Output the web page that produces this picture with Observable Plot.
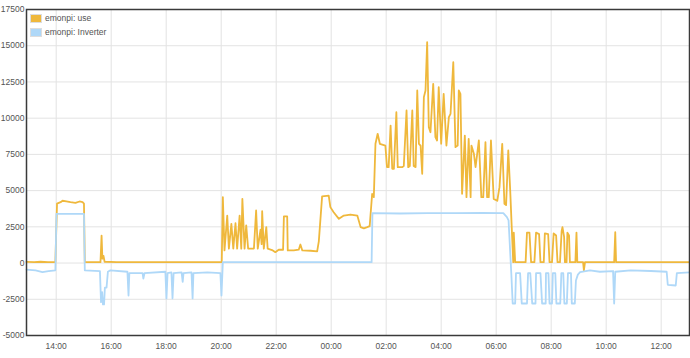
<!DOCTYPE html>
<html>
<head>
<meta charset="utf-8">
<script src="https://cdn.jsdelivr.net/npm/d3@7"></script>
<script src="https://cdn.jsdelivr.net/npm/@observablehq/plot@0.6"></script>
<style>
  html, body { margin: 0; padding: 0; background: #fff; }
  #wrap { position: relative; width: 690px; height: 358px; font-family: "Liberation Sans", Arial, sans-serif; }
  .legend { position: absolute; left: 30px; top: 12px; font-size: 8.5px; color: #545454; line-height: 13.5px; }
  .legend .row { display: flex; align-items: center; height: 13.5px; }
  .legend .sw { width: 10px; height: 7px; border: 1px solid #ddd; margin-right: 3px; }
</style>
</head>
<body>
<div id="wrap"></div>
<script>
// Series names / colours
const seriesNames = ["emonpi: use", "emonpi: Inverter"];
const seriesColors = ["#efb83c", "#afd8f8"];

// Time in hours since midnight of first day (24+ = next day)
const useHour = [12.92, 13.20, 13.43, 13.70, 13.97, 14.03, 14.16, 14.23, 14.37, 14.52, 14.70, 14.85, 14.96, 15.01, 15.04,
  15.30, 15.61, 15.65, 15.68, 15.72, 15.76, 16.20, 16.80, 17.40, 18.00, 18.60, 19.20, 19.70, 20.02,
  20.06, 20.12, 20.22, 20.28, 20.37, 20.44, 20.52, 20.58, 20.67, 20.73, 20.77, 20.85, 20.91, 20.98, 21.07, 21.19,
  21.27, 21.33, 21.43, 21.47, 21.49, 21.55, 21.64, 21.69, 21.85, 21.97, 22.09, 22.25, 22.28, 22.40, 22.42, 22.64,
  22.82, 22.88, 22.95, 23.25, 23.49, 23.55, 23.67, 23.91, 23.97, 24.09, 24.28, 24.46, 24.70, 24.95, 25.07, 25.19,
  25.31, 25.40, 25.49, 25.55, 25.61, 25.69, 25.77, 25.97, 26.03, 26.09, 26.16, 26.22, 26.28, 26.37, 26.42, 26.58,
  26.64, 26.74, 26.80, 26.86, 26.95, 27.00, 27.07, 27.13, 27.19, 27.25, 27.31, 27.37, 27.43, 27.49, 27.55, 27.61,
  27.71, 27.79, 27.85, 27.91, 28.00, 28.09, 28.19, 28.28, 28.34, 28.44, 28.52, 28.60, 28.64, 28.70, 28.76, 28.86,
  28.92, 29.00, 29.07, 29.10, 29.19, 29.25, 29.37, 29.46, 29.53, 29.61, 29.67, 29.73, 29.81, 29.91, 30.04, 30.12,
  30.22, 30.30, 30.36, 30.44, 30.51, 30.58, 30.62, 30.64, 30.69,
  31.07, 31.12, 31.21, 31.27, 31.39, 31.45, 31.56, 31.61, 31.73, 31.77, 31.89, 31.94, 32.03, 32.09, 32.18, 32.23,
  32.32, 32.38, 32.41, 32.47, 32.50, 32.56, 32.59, 32.65, 32.68, 32.88, 32.92, 32.95, 33.16, 33.19, 33.23,
  33.70, 34.29, 34.33, 34.36, 35.00, 35.80, 36.50, 37.03];
const useWatts = [80, 60, 90, 60, 70, 4100, 4200, 4300, 4250, 4200, 4150, 4250, 4200, 4100, 60,
  70, 60, 1900, 300, 500, 90, 60, 70, 60, 60, 70, 60, 60, 60,
  4550, 870, 3280, 990, 2710, 990, 2750, 990, 3280, 990, 4430, 990, 2600, 990, 990, 1000,
  3630, 990, 2300, 1300, 3580, 990, 2480, 990, 900, 750, 920, 920, 3220, 3220, 870, 870,
  920, 1280, 870, 850, 800, 1500, 4600, 4650, 3860, 3510, 3050, 3280, 3350, 3280, 2480, 2400,
  2480, 2550, 4780, 4550, 8230, 8920, 8230, 8110, 6620, 6620, 9490, 6510, 6500, 10410, 6620, 6620,
  6700, 10530, 6620, 6700, 10530, 6700, 6620, 11910, 8230, 8110, 6160, 11450, 11910, 15240, 9380, 9030,
  12370, 8690, 8460, 12140, 8230, 11680, 8110, 10070, 10300, 13860, 8000, 8110, 11910, 11680, 4780, 8800,
  4550, 8570, 4550, 8110, 7540, 6620, 8460, 4550, 4550, 8340, 4550, 4550, 8460, 4430, 4300, 5240,
  8230, 4090, 4000, 7770, 5010, 1790, 60, 2100, 60,
  60, 2100, 2100, 60, 60, 2100, 2000, 60, 60, 2050, 2000, 60, 60, 2050, 1900, 60,
  60, 2200, 2480, 1800, 60, 60, 2100, 1900, 60, 60, 2100, 60, 60, -500, 60,
  70, 60, 2130, 60, 70, 60, 70, 60];

const invHour = [12.92, 13.25, 13.50, 13.72, 13.97, 14.01, 15.01, 15.04, 15.59, 15.63, 15.67, 15.70, 15.74, 15.77, 15.83,
  15.88, 15.97, 16.59, 16.63, 16.66, 17.14, 17.17, 17.21, 17.97, 18.01, 18.05, 18.19, 18.23, 18.27, 18.56, 18.60,
  18.63, 18.92, 18.96, 18.99, 19.50, 19.97, 20.01, 20.06, 22.00, 24.00, 25.47, 25.50, 26.50, 27.50, 28.50, 29.50,
  30.26, 30.39, 30.45, 30.55, 30.60, 30.69, 30.72, 30.87, 30.93, 31.12, 31.16, 31.24, 31.31, 31.43, 31.45, 31.61,
  31.67, 31.80, 31.81, 31.90, 31.94, 32.03, 32.06, 32.15, 32.19, 32.33, 32.37, 32.44, 32.48, 32.57, 32.61, 32.72,
  32.75, 32.86, 32.90, 32.97, 33.05, 33.41, 33.77, 34.25, 34.29, 34.33, 34.89, 35.62, 36.20, 36.24, 36.53, 36.57, 37.03];
const invWatts = [-450, -500, -620, -550, -500, 3400, 3400, -500, -550, -2700, -2000, -2850, -2850, -1700, -1700,
  -600, -500, -600, -2240, -700, -700, -1070, -700, -600, -2440, -700, -650, -2440, -700, -650, -1300,
  -700, -650, -2440, -700, -650, -700, -2240, 60, 60, 60, 60, 3440, 3420, 3450, 3440, 3460,
  3440, 3170, 2940, -720, -2790, -2790, -700, -700, -2790, -2790, -700, -700, -2790, -2790, -700, -700,
  -2790, -2790, -700, -700, -2790, -2790, -700, -700, -2790, -2790, -700, -700, -2790, -2790, -700, -700,
  -2790, -2790, -1200, -800, -630, -500, -600, -550, -2790, -600, -500, -550, -600, -1500, -1550, -700, -650];

const xTicks = [14, 16, 18, 20, 22, 24, 26, 28, 30, 32, 34, 36];
const yTicks = [-5000, -2500, 0, 2500, 5000, 7500, 10000, 12500, 15000, 17500];

const useData = useHour.map((h, i) => ({h, w: useWatts[i]}));
const invData = invHour.map((h, i) => ({h, w: invWatts[i]}));

const fmtX = h => String(h % 24).padStart(2, "0") + ":00";
const fmtY = v => String(v);

const chart = Plot.plot({
  width: 690,
  height: 358,
  marginLeft: 26,
  marginRight: 1,
  marginTop: 9,
  marginBottom: 23,
  style: {fontFamily: "Liberation Sans, Arial, sans-serif", fontSize: "8.5px", color: "#545454", background: "#fff", overflow: "visible"},
  x: {domain: [12.92, 37.03], ticks: xTicks, tickFormat: fmtX, tickSize: 0, tickPadding: 7, label: null},
  y: {domain: [-5000, 17500], ticks: yTicks, tickFormat: fmtY, tickSize: 0, tickPadding: 2, label: null},
  marks: [
    Plot.ruleX(xTicks, {stroke: "#e3e3e3", strokeWidth: 1}),
    Plot.ruleY(yTicks, {stroke: "#e3e3e3", strokeWidth: 1}),
    Plot.line(useData, {x: "h", y: "w", stroke: seriesColors[0], strokeWidth: 1.8}),
    Plot.line(invData, {x: "h", y: "w", stroke: seriesColors[1], strokeWidth: 1.8}),
    Plot.frame({stroke: "#3a3a3a", strokeWidth: 1.5})
  ]
});
const wrap = document.getElementById("wrap");
wrap.appendChild(chart);

const legend = document.createElement("div");
legend.className = "legend";
seriesNames.forEach((n, i) => {
  const row = document.createElement("div");
  row.className = "row";
  const sw = document.createElement("div");
  sw.className = "sw";
  sw.style.background = seriesColors[i];
  const t = document.createElement("span");
  t.textContent = n;
  row.appendChild(sw);
  row.appendChild(t);
  legend.appendChild(row);
});
wrap.appendChild(legend);
</script>
</body>
</html>
